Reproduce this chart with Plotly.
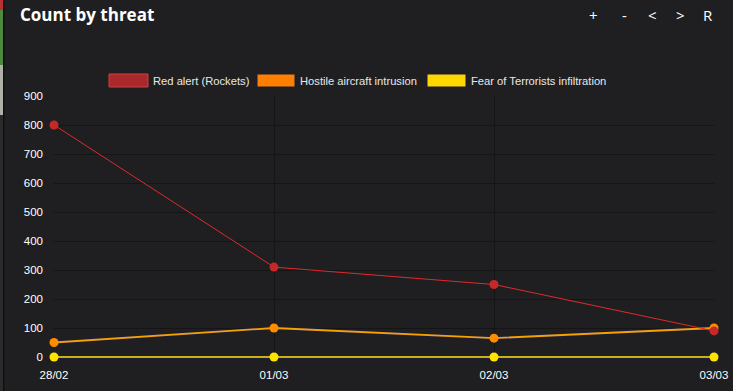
import plotly.graph_objects as go

dates = ["28/02", "01/03", "02/03", "03/03"]
red_alert = [800, 310, 250, 90]
hostile_aircraft = [50, 100, 65, 100]
terrorists = [0, 0, 0, 0]
series_names = ["Red alert (Rockets)", "Hostile aircraft intrusion", "Fear of Terrorists infiltration"]
y_ticks = [0, 100, 200, 300, 400, 500, 600, 700, 800, 900]

W, H = 733, 391
BG = "#1f1f21"
L, R, T, B = 54, 19, 96, 31
PW, PH = W - L - R, H - T - B
Y_LOW = -3 * 900 / 261


def px(x):
    return (x - L) / PW


def py(y):
    return (H - B - y) / PH


fig = go.Figure()

for vals in (hostile_aircraft, terrorists):
    fig.add_trace(go.Scatter(x=dates, y=vals, mode="lines", line=dict(color="#1c1c50", width=2.8),
                             showlegend=False, hoverinfo="skip", cliponaxis=False))

fig.add_trace(go.Scatter(x=dates, y=terrorists, mode="lines+markers", name=series_names[2],
                         line=dict(color="#ffe400", width=1.6),
                         marker=dict(color="#ffe400", size=9), cliponaxis=False, showlegend=False))
fig.add_trace(go.Scatter(x=dates, y=hostile_aircraft, mode="lines+markers", name=series_names[1],
                         line=dict(color="#f5a200", width=1.8),
                         marker=dict(color="#ff8c00", size=9), cliponaxis=False, showlegend=False))
fig.add_trace(go.Scatter(x=dates, y=red_alert, mode="lines+markers", name=series_names[0],
                         line=dict(color="#e02a2a", width=1),
                         marker=dict(color="#c62828", size=9), cliponaxis=False, showlegend=False))

legend_items = [
    (109, 148, 153, series_names[0], "#a8282b", "#d04040"),
    (257, 295, 300, series_names[1], "#ff8000", "#1a1a3a"),
    (427, 466, 471, series_names[2], "#ffd700", "#1a1a3a"),
]
shapes = []
annotations = []
for x0, x1, tx, name, fill, border in legend_items:
    shapes.append(dict(type="rect", xref="paper", yref="paper",
                       x0=px(x0), x1=px(x1), y0=py(87), y1=py(74),
                       fillcolor=fill, line=dict(color=border, width=1)))
    annotations.append(dict(text=name, xref="paper", yref="paper", x=px(tx - 2), y=py(80.5),
                            xanchor="left", yanchor="middle", showarrow=False,
                            font=dict(family="Liberation Sans, Arial", size=11.2, color="#e8e8e8")))

strip = [(0, 10, "#b83030"), (10, 65, "#4e8a3e"), (65, 115, "#b0b0a8"), (115, 391, "#2a2a2a")]
for y0, y1, c in strip:
    shapes.append(dict(type="rect", xref="paper", yref="paper", x0=px(0), x1=px(3),
                       y0=py(y1), y1=py(y0), fillcolor=c, line=dict(width=0), layer="below"))
shapes.append(dict(type="rect", xref="paper", yref="paper", x0=px(3), x1=px(4.5),
                   y0=py(391), y1=py(0), fillcolor="#111112", line=dict(width=0), layer="below"))

for bx, lab in [(593, "+"), (624, "-"), (652, "<"), (680, ">"), (708, "R")]:
    annotations.append(dict(text=lab, xref="paper", yref="paper", x=px(bx), y=py(15),
                            xanchor="center", yanchor="middle", showarrow=False,
                            font=dict(family="Open Sans, Noto Sans", size=15, color="#ffffff")))

tickfont = dict(family="Liberation Sans, Arial", size=11.5, color="#ffffff")
fig.update_layout(
    width=W, height=H, autosize=False,
    paper_bgcolor=BG, plot_bgcolor=BG,
    margin=dict(l=L, r=R, t=T, b=B),
    title=dict(text="<b>Count by threat</b>", xref="container", yref="container",
               x=20 / W, y=1 - 15 / H, xanchor="left", yanchor="middle",
               font=dict(family="Open Sans, Noto Sans", size=17, color="#ffffff")),
    xaxis=dict(type="category", range=[0, 3], showgrid=True, gridcolor="#151517", gridwidth=1,
               zeroline=False, showline=False, ticks="", ticklabelstandoff=6, automargin=False,
               tickfont=tickfont),
    yaxis=dict(range=[Y_LOW, 900], tickvals=y_ticks, showgrid=True, gridcolor="#151517", gridwidth=1,
               zeroline=False, showline=False, ticks="", ticklabelstandoff=10, automargin=False,
               tickfont=tickfont),
    shapes=shapes, annotations=annotations,
    showlegend=False,
)

post = (
    "document.documentElement.style.margin='0';"
    "document.body.style.margin='0';"
    "document.body.style.background='#1f1f21';"
)
fig.write_html("out.html", config={"displayModeBar": False, "responsive": False}, post_script=post)
